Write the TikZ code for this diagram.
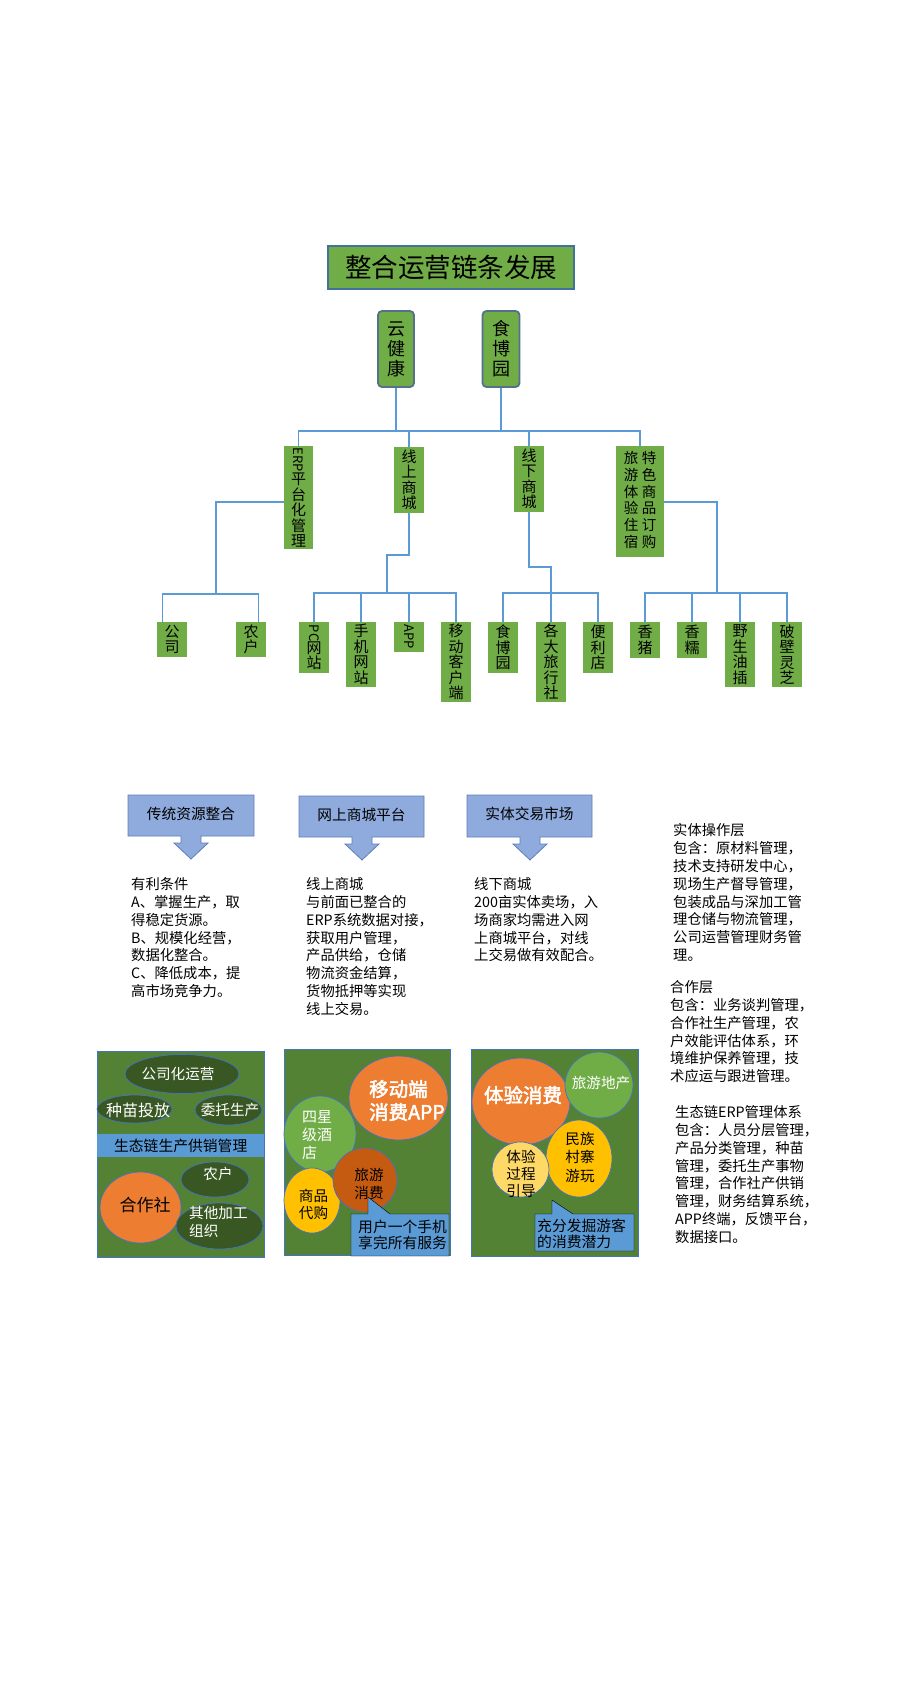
\documentclass[tikz,border=0pt]{standalone}
\usepackage{fontspec}
\setmainfont{Noto Sans CJK SC}
\newfontfamily\cjkb{Noto Sans CJK SC}[FakeBold=2.5]
\usetikzlibrary{shapes.geometric}
\definecolor{gfill}{RGB}{112,173,71}
\definecolor{pgreen}{RGB}{84,130,53}
\definecolor{dkg}{RGB}{56,87,35}
\definecolor{ebord}{RGB}{68,114,196}
\definecolor{connc}{RGB}{91,155,213}
\definecolor{bandc}{RGB}{91,155,213}
\definecolor{orng}{RGB}{237,125,49}
\definecolor{dorng}{RGB}{197,90,17}
\definecolor{ylw}{RGB}{255,192,0}
\definecolor{lylw}{RGB}{255,217,102}
\definecolor{callf}{RGB}{143,170,220}
\definecolor{calld}{RGB}{95,125,185}
\definecolor{titled}{RGB}{65,113,156}
\definecolor{topd}{RGB}{85,112,140}
\newcommand\rotl[1]{\rotatebox[origin=c]{-90}{\fontsize{13}{13}\selectfont #1}}
\begin{document}
\begin{tikzpicture}[x=1pt,y=-1pt,
  conn/.style={draw=connc,line width=1.2pt},
  titlebox/.style={fill=gfill,draw=titled,line width=2pt,inner sep=0pt,font=\fontsize{26.5}{26.5}\selectfont},
  topbox/.style={fill=gfill,draw=topd,line width=1.8pt,rounded corners=4pt,inner sep=0pt,align=center,font=\fontsize{18}{20}\selectfont},
  gbox/.style={fill=gfill,inner sep=0pt,align=center,font=\fontsize{15}{15.5}\selectfont},
  lowtxt/.style={anchor=north west,inner sep=0pt,align=left,font=\fontsize{14.3}{17.8}\selectfont},
  callout/.style={fill=callf,draw=calld,line width=0.8pt},
  calltxt/.style={inner sep=0pt,font=\fontsize{14.7}{16}\selectfont},
  panel/.style={fill=pgreen,draw=ebord,line width=0.8pt,inner sep=0pt,anchor=north west},
  ell/.style={ellipse,inner sep=0pt,draw=ebord,line width=0.7pt},
  wtxt/.style={inner sep=0pt,text=white,font=\fontsize{14.6}{18}\selectfont,align=left},
  btxt/.style={inner sep=0pt,text=black,font=\fontsize{14.6}{17.5}\selectfont,align=left},
  bubtxt/.style={inner sep=0pt,text=white,font=\cjkb\fontsize{19.5}{23}\selectfont,align=left},
  ptr/.style={fill=bandc}
]
\useasboundingbox (0,0) rectangle (900,1700);
\fill[white] (0,0) rectangle (900,1700);

% ---------- tree ----------
\node[titlebox,minimum width=246pt,minimum height=43pt] (title) at (451,267.5) {整合运营链条发展};
\node[topbox,minimum width=36pt,minimum height=76pt] (yun) at (396,349) {云\\健\\康};
\node[topbox,minimum width=37pt,minimum height=76pt] (shibo) at (501,349) {食\\博\\园};

\node[gbox,minimum width=29pt,minimum height=103pt] (erp) at (298.5,497.5) {\rotl{ERP}\\平\\台\\化\\管\\理};
\node[gbox,minimum width=30pt,minimum height=66pt] (xs) at (409,480) {线\\上\\商\\城};
\node[gbox,minimum width=30pt,minimum height=66pt] (xx) at (529,479) {线\\下\\商\\城};
\node[gbox,minimum width=48pt,minimum height=111pt] (ly) at (640,501.5)
  {\fontsize{14.5}{14.7}\selectfont\begin{tabular}{@{}c@{\hspace{3.5pt}}c@{}}旅&特\\游&色\\体&商\\验&品\\住&订\\宿&购\end{tabular}};

\node[gbox,minimum width=30pt,minimum height=35pt] (gs) at (172,639.5) {公\\司};
\node[gbox,minimum width=30pt,minimum height=35pt] (nh) at (251,639.5) {农\\户};
\node[gbox,minimum width=30pt,minimum height=51pt] (pc) at (314,647.5) {\rotl{PC}\\网\\站};
\node[gbox,minimum width=30pt,minimum height=65pt] (sj) at (361,654.5) {手\\机\\网\\站};
\node[gbox,minimum width=30pt,minimum height=30pt] (app) at (409,637) {\rotl{APP}};
\node[gbox,minimum width=30pt,minimum height=80pt] (yd) at (456,662) {移\\动\\客\\户\\端};
\node[gbox,minimum width=30pt,minimum height=51pt] (sb) at (503,647.5) {食\\博\\园};
\node[gbox,minimum width=30pt,minimum height=80pt] (gd) at (551,662) {各\\大\\旅\\行\\社};
\node[gbox,minimum width=30pt,minimum height=51pt] (bl) at (598,647.5) {便\\利\\店};
\node[gbox,minimum width=30pt,minimum height=36pt] (xz) at (645,640) {香\\猪};
\node[gbox,minimum width=30pt,minimum height=36pt] (xn) at (692,640) {香\\糯};
\node[gbox,minimum width=30pt,minimum height=65pt] (ys) at (740,654.5) {野\\生\\油\\插};
\node[gbox,minimum width=30pt,minimum height=65pt] (pb) at (787,654.5) {破\\壁\\灵\\芝};

\coordinate (busA) at (0,431);
\coordinate (yE) at (0,502);
\coordinate (busB) at (0,594);
\coordinate (busC) at (0,593);
\coordinate (k1) at (216,502);
\coordinate (k2) at (387,555);
\coordinate (k3) at (0,567);
\coordinate (k4) at (717,593);

\draw[conn] (yun.south) -- (yun.south |- busA);
\draw[conn] (shibo.south) -- (shibo.south |- busA);
\draw[conn] (erp.north) |- (ly.north |- busA) -- (ly.north);
\draw[conn] (xs.north) -- (xs.north |- busA);
\draw[conn] (xx.north) -- (xx.north |- busA);

\draw[conn] (erp.west |- yE) -- (k1) -- (k1 |- busB);
\draw[conn] ([xshift=6pt]gs.north west) |- (k1 |- busB) -| ([xshift=-8pt]nh.north east);

\draw[conn] (xs.south) |- (k2) -- (k2 |- busC);
\draw[conn] (pc.north) |- (yd.north |- busC) -- (yd.north);
\draw[conn] (sj.north) -- (sj.north |- busC);
\draw[conn] (app.north) -- (app.north |- busC);

\draw[conn] (xx.south) -- (xx.south |- k3) -| (gd.north);
\draw[conn] (sb.north) |- (bl.north |- busC) -- (bl.north);

\draw[conn] (ly.east |- yE) -| (k4);
\draw[conn] (xz.north) |- (pb.north |- busC) -- (pb.north);
\draw[conn] (xn.north) -- (xn.north |- busC);
\draw[conn] (ys.north) -- (ys.north |- busC);

% ---------- callouts ----------
\draw[callout] (128,795) -- (254,795) -- (254,836) -- (201,836) -- (201,843) -- (208,843) -- (191,859) -- (174,843) -- (181,843) -- (181,836) -- (128,836) -- cycle;
\node[calltxt] (c1) at (191,814) {传统资源整合};
\draw[callout] (299,796) -- (424,796) -- (424,837) -- (372,837) -- (372,844) -- (379,844) -- (362,860) -- (345,844) -- (352,844) -- (352,837) -- (299,837) -- cycle;
\node[calltxt] (c2) at (361.5,815) {网上商城平台};
\draw[callout] (467,795) -- (592,795) -- (592,837) -- (540,837) -- (540,844) -- (547,844) -- (530,860) -- (513,844) -- (520,844) -- (520,837) -- (467,837) -- cycle;
\node[calltxt] (c3) at (529.5,814) {实体交易市场};

% ---------- texts ----------
\node[lowtxt] (b1) at (131,877.5) {有利条件\\A、掌握生产，取\\得稳定货源。\\B、规模化经营，\\数据化整合。\\C、降低成本，提\\高市场竞争力。};
\node[lowtxt] (b2) at (306,877.5) {线上商城\\与前面已整合的\\ERP系统数据对接，\\获取用户管理，\\产品供给，仓储\\物流资金结算，\\货物抵押等实现\\线上交易。};
\node[lowtxt] (b3) at (474,877.5) {线下商城\\200亩实体卖场，入\\场商家均需进入网\\上商城平台，对线\\上交易做有效配合。};
\node[lowtxt] (r1) at (673,823.5) {实体操作层\\包含：原材料管理，\\技术支持研发中心，\\现场生产督导管理，\\包装成品与深加工管\\理仓储与物流管理，\\公司运营管理财务管\\理。};
\node[lowtxt] (r2) at (670,980.5) {合作层\\包含：业务谈判管理，\\合作社生产管理，农\\户效能评估体系，环\\境维护保养管理，技\\术应运与跟进管理。};
\node[lowtxt] (r3) at (675,1105.5) {生态链ERP管理体系\\包含：人员分层管理，\\产品分类管理，种苗\\管理，委托生产事物\\管理，合作社产供销\\管理，财务结算系统，\\APP终端，反馈平台，\\数据接口。};

% ---------- panel 1 ----------
\node[panel,minimum width=167pt,minimum height=206pt] (p1) at (97,1051) {};
\node[ell,fill=dkg,minimum width=114pt,minimum height=39pt] (e1) at (182,1074) {};
\node[wtxt] (te1) at (178,1074) {公司化运营};
\node[ell,fill=dkg,minimum width=75pt,minimum height=28pt] (e2) at (134.5,1109) {};
\node[wtxt,font=\fontsize{16}{18}\selectfont] (te2) at (138,1110) {种苗投放};
\node[ell,fill=dkg,minimum width=67pt,minimum height=30pt] (e3) at (228.5,1110) {};
\node[wtxt] (te3) at (230,1110) {委托生产};
\node[inner sep=0pt,fill=bandc,anchor=north west,minimum width=167pt,minimum height=23pt,font=\fontsize{14.8}{16}\selectfont] (band) at (97,1134) {生态链生产供销管理};
\node[ell,fill=dkg,minimum width=68pt,minimum height=35pt] (e4) at (215,1179.5) {};
\node[wtxt] (te4) at (218,1174) {农户};
\node[ell,fill=orng,minimum width=81pt,minimum height=71pt] (e5) at (140.5,1207.5) {};
\node[btxt,font=\fontsize{17}{18}\selectfont] (te5) at (145,1205) {合作社};
\node[ell,fill=dkg,minimum width=87pt,minimum height=46pt] (e6) at (219.5,1226) {};
\node[wtxt,anchor=west] (te6) at (189,1222) {其他加工\\组织};

% ---------- panel 2 ----------
\node[panel,minimum width=166pt,minimum height=206pt] (p2) at (284,1049) {};
\node[ell,fill=orng,minimum width=99pt,minimum height=84pt] (e7) at (398.5,1098) {};
\node[bubtxt,anchor=west] (te7) at (369,1100.5) {移动端\\消费APP};
\node[ell,fill=gfill,minimum width=72pt,minimum height=76pt] (e8) at (320,1134) {};
\node[wtxt,anchor=west,font=\fontsize{15}{18}\selectfont] (te8) at (302,1135) {四星\\级酒\\店};
\node[ell,fill=ylw,minimum width=56pt,minimum height=65pt] (e9) at (312,1200.5) {};
\node[btxt] (te9) at (313.5,1204.5) {商品\\代购};
\node[ell,fill=dorng,minimum width=64pt,minimum height=64pt] (e10) at (365,1180) {};
\node[btxt,font=\fontsize{14.6}{18}\selectfont] (te10) at (369,1184) {旅游\\消费};
\draw[ptr] (351,1214) -- (368,1214) -- (368,1197) -- (390,1214) -- (449,1214) -- (449,1256) -- (351,1256) -- cycle;
\node[btxt,anchor=west,font=\fontsize{14.8}{16.3}\selectfont] (te11) at (358,1235) {用户一个手机\\享完所有服务};

% ---------- panel 3 ----------
\node[panel,minimum width=167pt,minimum height=207pt] (p3) at (471,1049) {};
\node[ell,fill=orng,minimum width=98pt,minimum height=87pt] (e11) at (521,1101.5) {};
\node[bubtxt] (te12) at (523,1095) {体验消费};
\node[ell,fill=gfill,minimum width=68pt,minimum height=66pt] (e12) at (599,1085) {};
\node[wtxt] (te13) at (601,1083) {旅游地产};
\node[ell,fill=ylw,minimum width=66pt,minimum height=77pt] (e13) at (579,1158.5) {};
\node[btxt,font=\fontsize{14.6}{18.5}\selectfont] (te14) at (580,1157) {民族\\村寨\\游玩};
\node[ell,fill=lylw,minimum width=57pt,minimum height=55pt] (e14) at (520.5,1169.5) {};
\node[btxt,font=\fontsize{14.6}{17}\selectfont] (te15) at (521,1174) {体验\\过程\\引导};
\draw[ptr] (535,1214) -- (552,1214) -- (552,1200) -- (573,1214) -- (634,1214) -- (634,1251) -- (535,1251) -- cycle;
\node[btxt,anchor=west,font=\fontsize{14.8}{16.3}\selectfont] (te16) at (537,1234) {充分发掘游客\\的消费潜力};
\end{tikzpicture}
\end{document}
